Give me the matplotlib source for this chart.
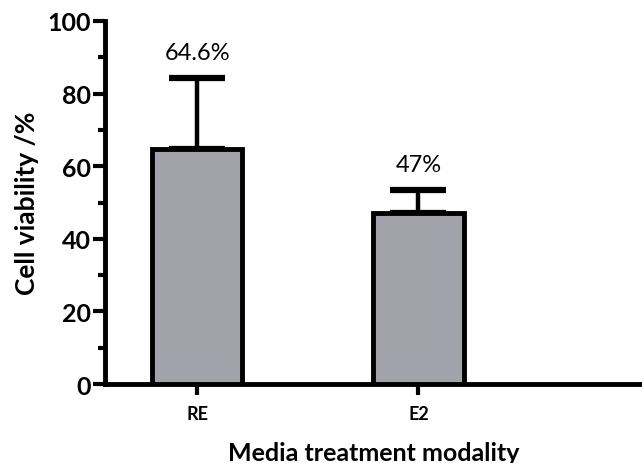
import matplotlib
matplotlib.use("Agg")
import matplotlib.pyplot as plt

groups = ["RE", "E2"]
viability = [64.6, 47.0]
err_up = [19.7, 6.5]
labels = ["64.6%", "47%"]

plt.rcParams["font.family"] = ["Lato", "DejaVu Sans"]


def main():
    fig = plt.figure(figsize=(6.42, 4.64), dpi=100)
    ax = fig.add_axes([0.1636, 0.170, 0.8364, 0.7828])

    x = list(range(len(groups)))
    ax.bar(x, viability, width=0.41, color="#a2a2aa", edgecolor="black",
           linewidth=3.5, zorder=3)
    ax.errorbar(x, viability, yerr=[[0] * len(x), err_up], fmt="none",
                ecolor="black", elinewidth=3.2, capsize=20, capthick=4.5,
                zorder=2)
    for xi, v, e, lab in zip(x, viability, err_up, labels):
        ax.text(xi, v + e + 7, lab, ha="center", va="center", fontsize=17)

    ax.set_xlim(-0.416, 2.01)
    ax.set_ylim(0, 100)
    ax.set_xticks(x)
    ax.set_xticklabels(groups, fontsize=13, fontweight="bold")
    ax.set_yticks(range(0, 101, 20))
    ax.set_yticks(range(10, 100, 20), minor=True)
    ax.tick_params(axis="y", which="major", length=9, width=3,
                   labelsize=18, pad=1)
    ax.tick_params(axis="y", which="minor", length=5, width=3)
    ax.tick_params(axis="x", length=8, width=3, pad=7)
    for lab in ax.get_yticklabels():
        lab.set_fontweight("bold")

    for side in ("top", "right"):
        ax.spines[side].set_visible(False)
    for side in ("left", "bottom"):
        ax.spines[side].set_linewidth(3.5)

    ax.set_xlabel("Media treatment modality", fontsize=18, fontweight="bold",
                  labelpad=14)
    ax.set_ylabel("Cell viability /%", fontsize=19, fontweight="bold",
                  labelpad=6)

    fig.savefig("out.png", dpi=100)


main()
